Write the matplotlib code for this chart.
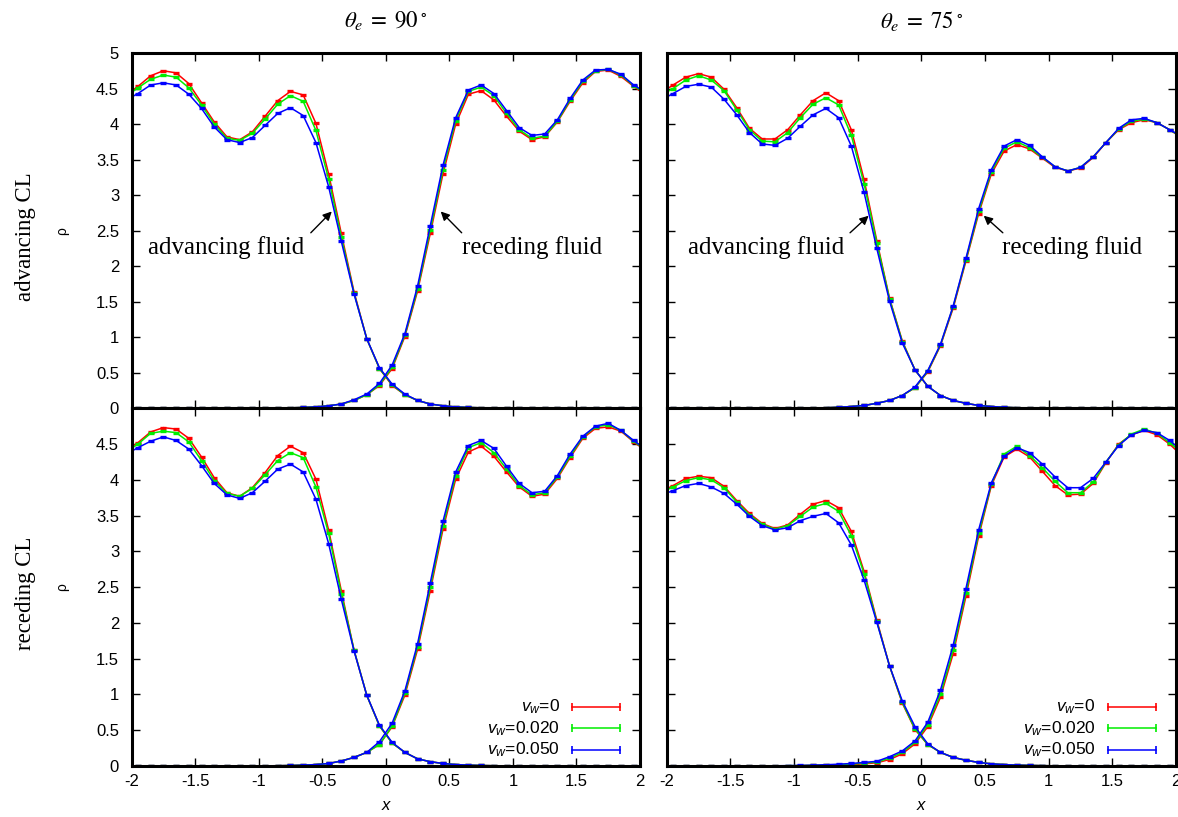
"""Density profiles across the interface for advancing / receding contact lines."""
import numpy as np
import matplotlib
matplotlib.use("Agg")
import matplotlib.pyplot as plt
from matplotlib.ticker import FormatStrFormatter, MultipleLocator

plt.rcParams["font.family"] = "Liberation Sans"
plt.rcParams["axes.unicode_minus"] = False
plt.rcParams["mathtext.fontset"] = "custom"
plt.rcParams["mathtext.it"] = "Liberation Sans:italic"
plt.rcParams["mathtext.rm"] = "Liberation Sans"

# bin centres (the two outer bins fall just outside the plotted range)
x = [-2.05, -1.95, -1.85, -1.75, -1.65, -1.55, -1.45, -1.35, -1.25, -1.15, -1.05,
     -0.95, -0.85, -0.75, -0.65, -0.55, -0.45, -0.35, -0.25, -0.15, -0.05,
     0.05, 0.15, 0.25, 0.35, 0.45, 0.55, 0.65, 0.75, 0.85, 0.95,
     1.05, 1.15, 1.25, 1.35, 1.45, 1.55, 1.65, 1.75, 1.85, 1.95, 2.05]

wall_speeds = ["0", "0.020", "0.050"]
colors = ["#ff0000", "#00ee00", "#0000ff"]

# theta_e = 90, advancing contact line
p90a_af_v0 = [4.40, 4.53, 4.68, 4.75, 4.72, 4.57, 4.30, 4.03, 3.82, 3.78, 3.89, 4.11, 4.33, 4.46, 4.41, 4.01, 3.30, 2.46, 1.64, 0.98, 0.56,
              0.32, 0.19, 0.11, 0.06, 0.035, 0.02, 0.012, 0.007, 0.004, 0.002, 0.001, 0, 0, 0, 0, 0, 0, 0, 0, 0, 0]
p90a_af_v020 = [4.38, 4.51, 4.63, 4.69, 4.66, 4.51, 4.27, 4.00, 3.80, 3.77, 3.87, 4.07, 4.28, 4.40, 4.32, 3.91, 3.23, 2.41, 1.62, 0.98, 0.56,
                0.33, 0.19, 0.11, 0.06, 0.035, 0.02, 0.012, 0.007, 0.004, 0.002, 0.001, 0, 0, 0, 0, 0, 0, 0, 0, 0, 0]
p90a_af_v050 = [4.33, 4.43, 4.55, 4.58, 4.55, 4.42, 4.22, 3.96, 3.78, 3.74, 3.81, 3.98, 4.15, 4.23, 4.12, 3.74, 3.12, 2.35, 1.61, 0.98, 0.57,
                0.34, 0.20, 0.11, 0.06, 0.035, 0.02, 0.012, 0.007, 0.004, 0.002, 0.001, 0, 0, 0, 0, 0, 0, 0, 0, 0, 0]
p90a_rf_v0 = [0, 0, 0, 0, 0, 0, 0, 0, 0, 0, 0.001, 0.002, 0.004, 0.007, 0.012, 0.02, 0.035, 0.06, 0.11, 0.19, 0.32,
              0.56, 1.01, 1.65, 2.46, 3.30, 4.00, 4.42, 4.47, 4.34, 4.11, 3.90, 3.78, 3.82, 4.03, 4.32, 4.58, 4.74, 4.76, 4.67, 4.53, 4.40]
p90a_rf_v020 = [0, 0, 0, 0, 0, 0, 0, 0, 0, 0, 0.001, 0.002, 0.004, 0.007, 0.012, 0.02, 0.035, 0.06, 0.11, 0.19, 0.33,
                0.58, 1.03, 1.68, 2.51, 3.36, 4.05, 4.46, 4.52, 4.40, 4.15, 3.92, 3.80, 3.83, 4.04, 4.34, 4.60, 4.75, 4.77, 4.69, 4.54, 4.42]
p90a_rf_v050 = [0, 0, 0, 0, 0, 0, 0, 0, 0, 0, 0.001, 0.002, 0.004, 0.007, 0.012, 0.02, 0.035, 0.06, 0.12, 0.20, 0.35,
                0.61, 1.05, 1.72, 2.57, 3.42, 4.09, 4.48, 4.55, 4.43, 4.19, 3.95, 3.84, 3.86, 4.06, 4.36, 4.62, 4.76, 4.77, 4.70, 4.55, 4.44]

# theta_e = 75, advancing contact line
p75a_af_v0 = [4.43, 4.55, 4.66, 4.71, 4.66, 4.49, 4.23, 3.94, 3.79, 3.79, 3.92, 4.13, 4.33, 4.44, 4.33, 3.92, 3.22, 2.36, 1.55, 0.95, 0.54,
              0.31, 0.18, 0.11, 0.07, 0.04, 0.025, 0.015, 0.008, 0.005, 0.003, 0.002, 0.001, 0, 0, 0, 0, 0, 0, 0, 0, 0]
p75a_af_v020 = [4.40, 4.50, 4.62, 4.68, 4.62, 4.47, 4.20, 3.92, 3.76, 3.75, 3.88, 4.09, 4.28, 4.37, 4.27, 3.84, 3.16, 2.33, 1.54, 0.94, 0.54,
                0.31, 0.18, 0.11, 0.07, 0.04, 0.025, 0.015, 0.008, 0.005, 0.003, 0.002, 0.001, 0, 0, 0, 0, 0, 0, 0, 0, 0]
p75a_af_v050 = [4.33, 4.43, 4.53, 4.56, 4.52, 4.35, 4.13, 3.88, 3.72, 3.70, 3.80, 3.97, 4.13, 4.22, 4.09, 3.69, 3.04, 2.25, 1.51, 0.92, 0.54,
                0.31, 0.18, 0.11, 0.07, 0.04, 0.025, 0.015, 0.008, 0.005, 0.003, 0.002, 0.001, 0, 0, 0, 0, 0, 0, 0, 0, 0]
p75a_rf_v0 = [0, 0, 0, 0, 0, 0, 0, 0, 0, 0.001, 0.002, 0.003, 0.005, 0.008, 0.015, 0.025, 0.04, 0.07, 0.11, 0.18, 0.29,
              0.51, 0.88, 1.41, 2.07, 2.74, 3.30, 3.62, 3.71, 3.65, 3.52, 3.39, 3.34, 3.38, 3.53, 3.74, 3.92, 4.02, 4.06, 4.02, 3.92, 3.80]
p75a_rf_v020 = [0, 0, 0, 0, 0, 0, 0, 0, 0, 0.001, 0.002, 0.003, 0.005, 0.008, 0.015, 0.025, 0.04, 0.07, 0.11, 0.18, 0.29,
                0.52, 0.89, 1.43, 2.09, 2.77, 3.33, 3.66, 3.75, 3.67, 3.53, 3.40, 3.34, 3.39, 3.54, 3.74, 3.93, 4.04, 4.07, 4.02, 3.92, 3.81]
p75a_rf_v050 = [0, 0, 0, 0, 0, 0, 0, 0, 0, 0.001, 0.002, 0.003, 0.005, 0.008, 0.015, 0.025, 0.04, 0.07, 0.11, 0.18, 0.30,
                0.53, 0.90, 1.44, 2.11, 2.81, 3.36, 3.69, 3.78, 3.70, 3.54, 3.40, 3.34, 3.39, 3.54, 3.74, 3.94, 4.06, 4.08, 4.02, 3.92, 3.82]

# theta_e = 90, receding contact line
p90r_af_v0 = [4.40, 4.52, 4.67, 4.73, 4.71, 4.58, 4.32, 4.03, 3.82, 3.77, 3.89, 4.10, 4.34, 4.47, 4.38, 4.01, 3.30, 2.45, 1.62, 0.99, 0.56,
              0.32, 0.19, 0.10, 0.06, 0.035, 0.02, 0.012, 0.007, 0.004, 0.002, 0.001, 0, 0, 0, 0, 0, 0, 0, 0, 0, 0]
p90r_af_v020 = [4.38, 4.50, 4.65, 4.68, 4.66, 4.53, 4.27, 3.99, 3.81, 3.77, 3.88, 4.07, 4.27, 4.38, 4.31, 3.90, 3.25, 2.41, 1.62, 0.99, 0.56,
                0.32, 0.19, 0.10, 0.06, 0.035, 0.02, 0.012, 0.007, 0.004, 0.002, 0.001, 0, 0, 0, 0, 0, 0, 0, 0, 0, 0]
p90r_af_v050 = [4.35, 4.45, 4.54, 4.60, 4.55, 4.43, 4.20, 3.95, 3.79, 3.74, 3.82, 3.98, 4.15, 4.22, 4.11, 3.73, 3.11, 2.33, 1.61, 0.99, 0.57,
                0.33, 0.19, 0.10, 0.06, 0.035, 0.02, 0.012, 0.007, 0.004, 0.002, 0.001, 0, 0, 0, 0, 0, 0, 0, 0, 0, 0]
p90r_rf_v0 = [0, 0, 0, 0, 0, 0, 0, 0, 0, 0, 0.001, 0.002, 0.004, 0.007, 0.012, 0.02, 0.035, 0.07, 0.12, 0.19, 0.30,
              0.55, 0.99, 1.63, 2.45, 3.31, 4.01, 4.39, 4.47, 4.33, 4.11, 3.90, 3.77, 3.80, 4.02, 4.31, 4.58, 4.72, 4.74, 4.68, 4.53, 4.40]
p90r_rf_v020 = [0, 0, 0, 0, 0, 0, 0, 0, 0, 0, 0.001, 0.002, 0.004, 0.007, 0.012, 0.02, 0.035, 0.07, 0.12, 0.19, 0.30,
                0.56, 1.02, 1.67, 2.50, 3.36, 4.06, 4.45, 4.52, 4.38, 4.15, 3.92, 3.79, 3.82, 4.04, 4.33, 4.60, 4.74, 4.77, 4.69, 4.54, 4.41]
p90r_rf_v050 = [0, 0, 0, 0, 0, 0, 0, 0, 0, 0, 0.001, 0.002, 0.004, 0.007, 0.012, 0.02, 0.035, 0.07, 0.12, 0.19, 0.34,
                0.60, 1.05, 1.71, 2.56, 3.42, 4.11, 4.48, 4.55, 4.44, 4.19, 3.95, 3.82, 3.84, 4.06, 4.36, 4.61, 4.75, 4.79, 4.69, 4.55, 4.42]

# theta_e = 75, receding contact line
p75r_af_v0 = [3.83, 3.92, 4.02, 4.05, 4.03, 3.91, 3.71, 3.53, 3.39, 3.32, 3.37, 3.52, 3.66, 3.71, 3.61, 3.28, 2.72, 2.04, 1.40, 0.88, 0.51,
              0.30, 0.19, 0.12, 0.08, 0.05, 0.03, 0.02, 0.012, 0.008, 0.005, 0.003, 0.002, 0.001, 0, 0, 0, 0, 0, 0, 0, 0]
p75r_af_v020 = [3.82, 3.90, 3.99, 4.03, 4.00, 3.89, 3.69, 3.51, 3.38, 3.31, 3.36, 3.49, 3.62, 3.67, 3.56, 3.22, 2.69, 2.02, 1.40, 0.89, 0.52,
                0.30, 0.19, 0.12, 0.08, 0.05, 0.03, 0.02, 0.012, 0.008, 0.005, 0.003, 0.002, 0.001, 0, 0, 0, 0, 0, 0, 0, 0]
p75r_af_v050 = [3.78, 3.85, 3.92, 3.95, 3.90, 3.81, 3.66, 3.49, 3.36, 3.30, 3.33, 3.43, 3.49, 3.53, 3.40, 3.09, 2.60, 2.01, 1.40, 0.91, 0.55,
                0.31, 0.19, 0.12, 0.08, 0.05, 0.03, 0.02, 0.012, 0.008, 0.005, 0.003, 0.002, 0.001, 0, 0, 0, 0, 0, 0, 0, 0]
p75r_rf_v0 = [0, 0, 0, 0, 0, 0, 0, 0, 0.001, 0.002, 0.003, 0.005, 0.007, 0.01, 0.015, 0.02, 0.03, 0.045, 0.09, 0.17, 0.31,
              0.55, 0.96, 1.57, 2.37, 3.21, 3.92, 4.32, 4.43, 4.32, 4.12, 3.92, 3.79, 3.80, 3.95, 4.24, 4.50, 4.63, 4.69, 4.63, 4.50, 4.33]
p75r_rf_v020 = [0, 0, 0, 0, 0, 0, 0, 0, 0.001, 0.002, 0.004, 0.006, 0.009, 0.013, 0.02, 0.027, 0.04, 0.055, 0.11, 0.19, 0.33,
                0.58, 1.00, 1.62, 2.42, 3.25, 3.94, 4.36, 4.47, 4.34, 4.17, 3.98, 3.82, 3.82, 3.97, 4.25, 4.49, 4.64, 4.71, 4.65, 4.52, 4.37]
p75r_rf_v050 = [0, 0, 0, 0, 0, 0, 0, 0, 0.002, 0.003, 0.005, 0.008, 0.012, 0.018, 0.025, 0.035, 0.05, 0.065, 0.13, 0.21, 0.35,
                0.61, 1.06, 1.69, 2.48, 3.30, 3.96, 4.33, 4.45, 4.38, 4.22, 4.04, 3.89, 3.89, 4.02, 4.25, 4.48, 4.63, 4.69, 4.66, 4.55, 4.40]

panels = {
    (0, 0): ([p90a_af_v0, p90a_af_v020, p90a_af_v050], [p90a_rf_v0, p90a_rf_v020, p90a_rf_v050]),
    (0, 1): ([p75a_af_v0, p75a_af_v020, p75a_af_v050], [p75a_rf_v0, p75a_rf_v020, p75a_rf_v050]),
    (1, 0): ([p90r_af_v0, p90r_af_v020, p90r_af_v050], [p90r_rf_v0, p90r_rf_v020, p90r_rf_v050]),
    (1, 1): ([p75r_af_v0, p75r_af_v020, p75r_af_v050], [p75r_rf_v0, p75r_rf_v020, p75r_rf_v050]),
}

W, H = 1178, 817
fig = plt.figure(figsize=(W / 100, H / 100), dpi=100)

col_px = [(131.6, 640.0), (666.7, 1176.0)]
row_px = [(53.0, 408.3), (408.3, 766.0)]

serif = "Liberation Serif"
axes = {}
for (r, c), (adv, rec) in panels.items():
    x0, x1 = col_px[c]
    y0, y1 = row_px[r]
    ax = fig.add_axes([x0 / W, 1 - y1 / H, (x1 - x0) / W, (y1 - y0) / H])
    axes[r, c] = ax
    for a, b, col in zip(adv, rec, colors):
        for prof in (a, b):
            # keep below the frame so the zero tails vanish into the axis line
            ax.plot(x, prof, color=col, lw=1.1, marker="_", ms=5, mew=2.4,
                    clip_on=True, zorder=2)
    ax.set_xlim(-2, 2)
    ax.set_ylim(0, 5)
    ax.xaxis.set_major_locator(MultipleLocator(0.5))
    ax.yaxis.set_major_locator(MultipleLocator(0.5))
    ax.xaxis.set_major_formatter(FormatStrFormatter("%g"))
    ax.yaxis.set_major_formatter(FormatStrFormatter("%g"))
    ax.tick_params(direction="in", length=6, width=1, top=True, right=True,
                   labelsize=12, colors="black")
    ax.tick_params(axis="y", pad=9)
    ax.tick_params(axis="x", pad=6)
    for sp in ax.spines.values():
        sp.set_linewidth(2.2)
        sp.set_zorder(3)
    if r == 0:
        ax.tick_params(labelbottom=False)
    else:
        ax.set_yticks(np.arange(0, 4.6, 0.5))
    if c == 1:
        ax.tick_params(labelleft=False)

# arrows pointing at the two fluids
arrow = dict(arrowstyle="-|>", color="black", lw=1.0, mutation_scale=13,
             shrinkA=0, shrinkB=0)
notes = {
    (0, 0): [(-1.87, 0.597), ((-0.59, 2.47), (-0.425, 2.77)), ((0.597, 2.47), (0.432, 2.77))],
    (0, 1): [(-1.83, 0.634), ((-0.56, 2.47), (-0.414, 2.71)), ((0.64, 2.47), (0.49, 2.71))],
}
for key, (tx, arr_a, arr_r) in notes.items():
    ax = axes[key]
    ax.text(tx[0], 2.26, "advancing fluid", family=serif, fontsize=18, ha="left", va="center")
    ax.text(tx[1], 2.26, "receding fluid", family=serif, fontsize=18, ha="left", va="center")
    ax.annotate("", xy=arr_a[1], xytext=arr_a[0], arrowprops=arrow)
    ax.annotate("", xy=arr_r[1], xytext=arr_r[0], arrowprops=arrow)

# legends in the bottom row, text right-aligned before the sample line
for c in (0, 1):
    ax = axes[1, c]
    for i, (v, col) in enumerate(zip(wall_speeds, colors)):
        yy = 0.165 - i * 0.06
        ax.text(0.842, yy, r"$v_w$=" + v, transform=ax.transAxes, ha="right",
                va="center", fontsize=12.5, math_fontfamily="custom")
        ax.plot([0.866, 0.960], [yy, yy], transform=ax.transAxes, color=col,
                lw=1.1, marker="|", ms=6, mew=1.2)

# column titles, row labels and axis labels
for c, th in enumerate(["90", "75"]):
    xc = sum(col_px[c]) / 2 / W
    fig.text(xc, 1 - 21 / H, r"$\theta_e\;=\;%s^\circ$" % th, ha="center", va="center",
             fontsize=16.5, math_fontfamily="stix")
    fig.text(xc, 1 - 805 / H, "x", ha="center", va="center", fontsize=12, style="italic")

for r, lab in enumerate(["advancing CL", "receding CL"]):
    yc = 1 - (sum(row_px[r]) / 2 + 6) / H
    fig.text(25 / W, yc, lab, rotation=90, ha="center", va="center", family=serif, fontsize=16.5)
    fig.text(62 / W, yc + 6 / H, "ρ", rotation=90, ha="center", va="center", fontsize=10)

plt.savefig("out.png", dpi=100)
plt.close()
